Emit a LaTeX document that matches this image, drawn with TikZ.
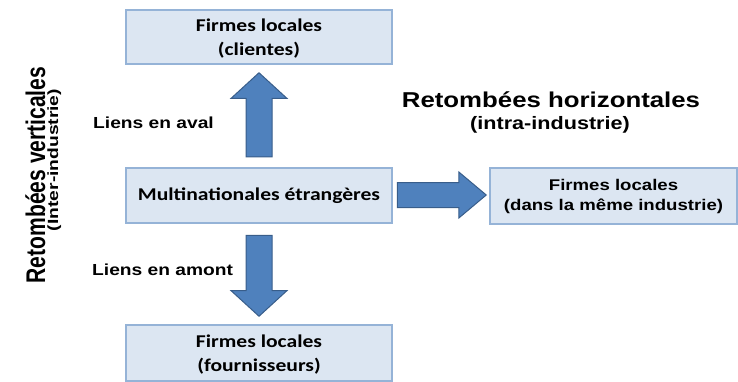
\documentclass[tikz,border=0pt]{standalone}
\usepackage{fontspec}
\newfontfamily\boxfont[FakeStretch=1.2]{Carlito}
\newfontfamily\labfont[FakeStretch=1.2]{Liberation Sans}
\newfontfamily\vtitlefont[FakeStretch=0.78]{Liberation Sans}
\newfontfamily\vsubfont[FakeStretch=1.3]{Liberation Sans}
\usetikzlibrary{shapes.arrows, calc}
\definecolor{boxfill}{RGB}{220,230,242}
\definecolor{boxline}{RGB}{149,179,215}
\definecolor{arrowfill}{RGB}{79,129,189}
\definecolor{arrowline}{RGB}{56,93,138}
\begin{document}
\begin{tikzpicture}[x=1pt, y=-1pt,
    firm/.style={draw=boxline, fill=boxfill, line width=1.5pt, minimum width=266pt,
        inner sep=0pt, align=center, font=\boxfont\bfseries\fontsize{18}{24}\selectfont},
    flow/.style={single arrow, draw=arrowline, fill=arrowfill, line width=1pt, anchor=tail,
        inner xsep=0pt, inner ysep=12.5pt, single arrow head extend=15pt, single arrow tip angle=95},
    lab/.style={font=\labfont\bfseries\fontsize{16}{18}\selectfont}]
    \useasboundingbox (0, 0) rectangle (738, 381);

    \def\xc{259};
    \def\gap{10};

    % the four boxes
    \node[firm, minimum height=54pt] (clients) at (\xc, 37) {\rule{0pt}{16pt}Firmes locales\\(clientes)};
    \node[firm, minimum height=55pt] (mnc) at (\xc, 195.5) {Multinationales étrangères};
    \node[firm, minimum height=56pt] (suppliers) at (\xc, 353) {\rule{0pt}{16pt}Firmes locales\\(fournisseurs)};
    \node[firm, minimum width=247pt, minimum height=56pt,
        font=\labfont\bfseries\fontsize{15.5}{20}\selectfont] (sameind) at (613.5, 196)
        {Firmes locales\\(dans la même industrie)};

    % block arrows between the boxes
    \node[flow, rotate=90, minimum height=84pt] (aval) at ($(mnc.north)+(0,-\gap)$) {};
    \node[flow, rotate=-90, minimum height=81pt] (amont) at ($(mnc.south)+(0,\gap+1)$) {};
    \node[flow, minimum height=89pt, inner ysep=12pt, single arrow head extend=10.5pt,
        single arrow tip angle=80] (horiz) at ($(mnc.east)+(4,-0.5)$) {};

    % labels
    \node[lab, anchor=base west, inner sep=0pt] (avaltxt) at (93, 128) {Liens en aval};
    \node[lab, anchor=base west, inner sep=0pt] (amonttxt) at (92, 275) {Liens en amont};
    \node[anchor=base, inner sep=0pt, font=\labfont\bfseries\fontsize{21.5}{24}\selectfont] (htitle)
        at (551, 107) {Retombées horizontales};
    \node[anchor=base, inner sep=0pt, font=\labfont\bfseries\fontsize{18}{20}\selectfont] (hsub)
        at (550, 129) {(intra-industrie)};
    \node[rotate=90, anchor=base, inner sep=0pt, font=\vtitlefont\bfseries\fontsize{27}{30}\selectfont] (vtitle)
        at (45, 175) {Retombées verticales};
    \node[rotate=90, anchor=base, inner sep=0pt, font=\vsubfont\bfseries\fontsize{14.8}{16}\selectfont] (vsub)
        at (58, 160) {(Inter-industrie)};
\end{tikzpicture}
\end{document}
